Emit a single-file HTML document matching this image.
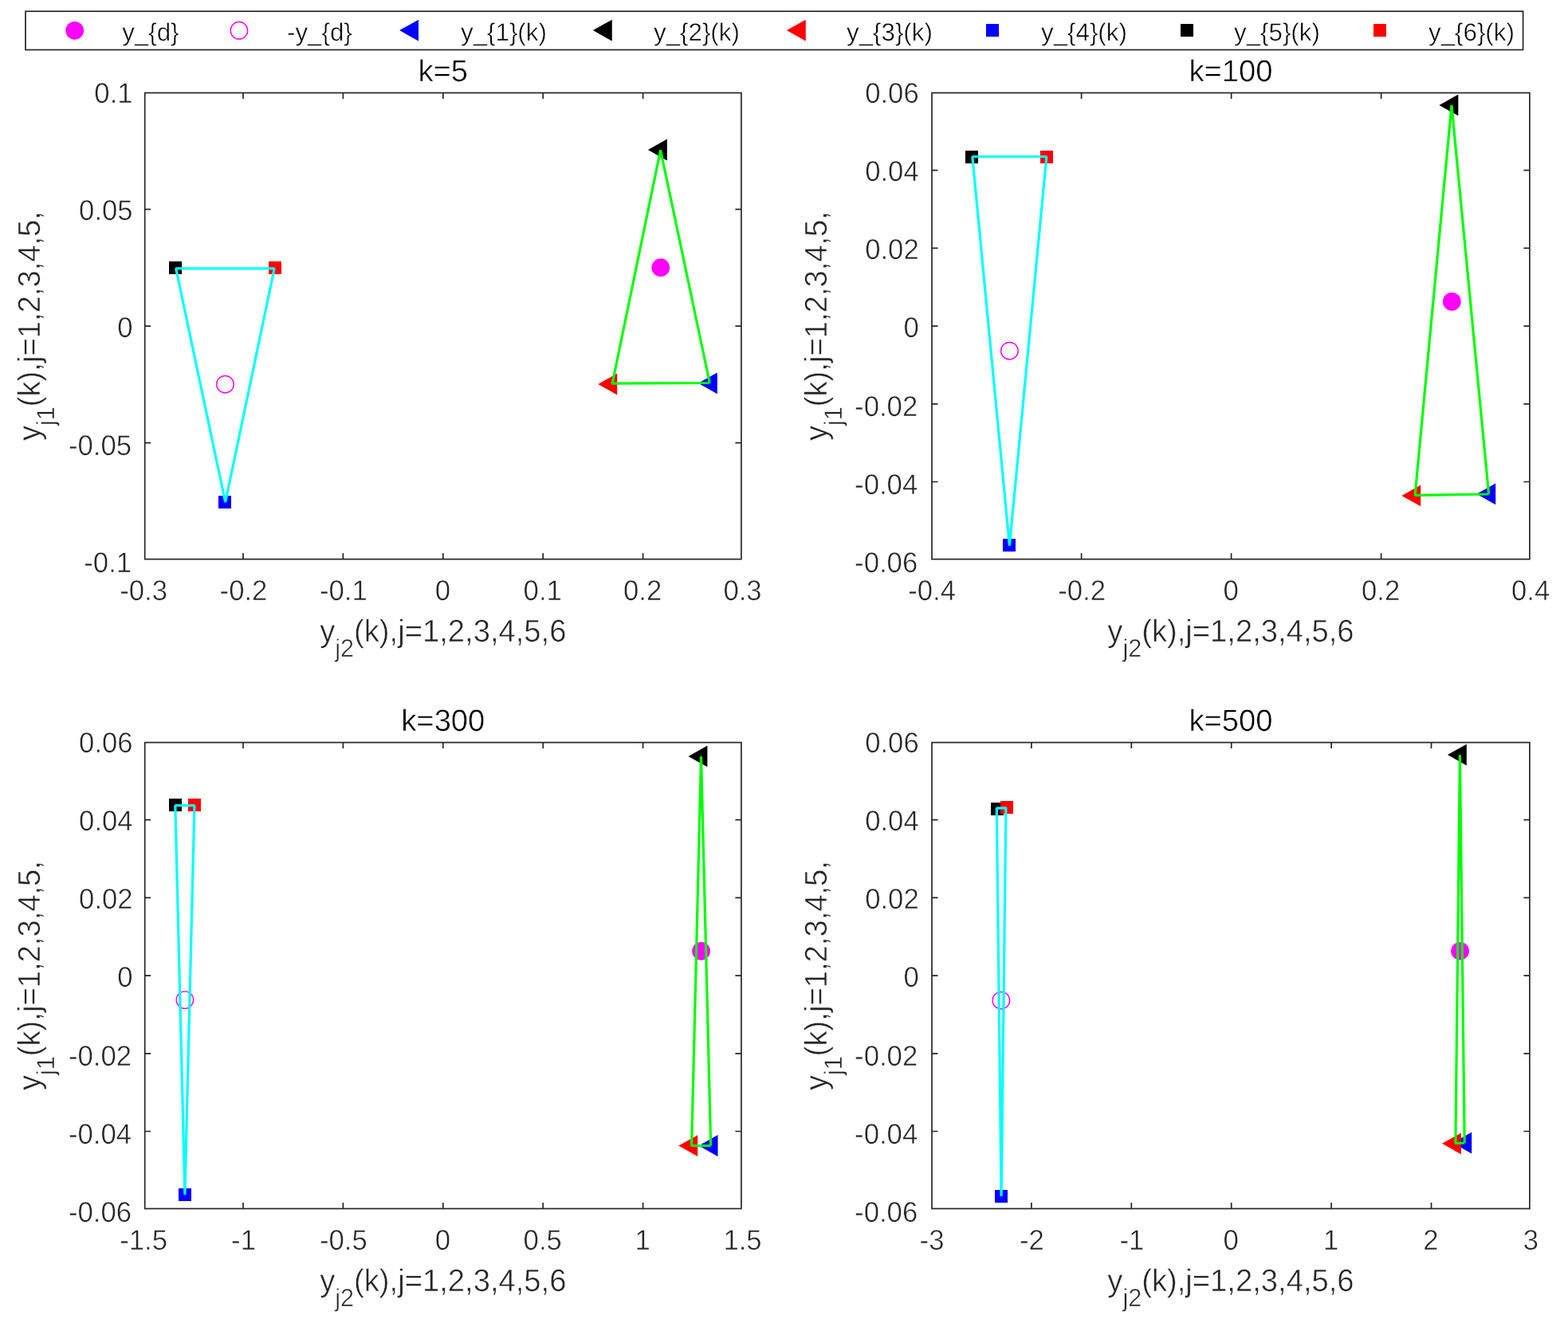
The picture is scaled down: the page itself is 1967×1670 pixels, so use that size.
<!DOCTYPE html>
<html lang="en"><head><meta charset="utf-8"><title>Formation trajectories y_j(k) at k=5, 100, 300, 500</title>
<style>html,body{margin:0;padding:0;background:#fff;}body{width:1967px;height:1670px;overflow:hidden;}svg{display:block;font-family:'Liberation Sans', Arial, Helvetica, sans-serif;}</style>
</head><body>
<svg width="1967" height="1670" viewBox="0 0 1967 1670" text-rendering="geometricPrecision">
<rect width="1967" height="1670" fill="#fff"/>
<rect x="32.0" y="14.2" width="1878.6" height="48.3" fill="#fff" stroke="#262626" stroke-width="1.7"/>
<circle cx="93.70" cy="38.30" r="11.4" fill="#ff00ff"/>
<circle cx="299.90" cy="38.30" r="10.75" fill="none" stroke="#ff00ff" stroke-width="1.4"/>
<polygon points="501.10,38.10 525.00,24.70 525.00,51.50" fill="#0000ff"/>
<polygon points="743.85,38.10 767.75,24.70 767.75,51.50" fill="#000000"/>
<polygon points="986.85,38.10 1010.75,24.70 1010.75,51.50" fill="#ff0000"/>
<rect x="1237" y="30" width="16" height="16" fill="#0000ff"/>
<rect x="1481" y="30" width="16" height="16" fill="#000000"/>
<rect x="1723" y="30" width="16" height="16" fill="#ff0000"/>
<g font-size="31.3" fill="#000" stroke="#fff" stroke-width="0.5">
<text x="153.20" y="50.6">y_{d}</text>
<text x="360.00" y="50.6">-y_{d}</text>
<text x="578.00" y="50.6">y_{1}(k)</text>
<text x="820.00" y="50.6">y_{2}(k)</text>
<text x="1062.00" y="50.6">y_{3}(k)</text>
<text x="1306.00" y="50.6">y_{4}(k)</text>
<text x="1548.00" y="50.6">y_{5}(k)</text>
<text x="1792.00" y="50.6">y_{6}(k)</text>
</g>
<polygon points="875.90,480.80 899.80,467.40 899.80,494.20" fill="#0000ff"/>
<polygon points="812.90,188.00 836.80,174.60 836.80,201.40" fill="#000000"/>
<polygon points="750.30,482.00 774.20,468.60 774.20,495.40" fill="#ff0000"/>
<rect x="274" y="622" width="16" height="16" fill="#0000ff"/>
<rect x="212" y="328" width="16" height="16" fill="#000000"/>
<rect x="337" y="328" width="16" height="16" fill="#ff0000"/>
<circle cx="828.80" cy="335.70" r="11.4" fill="#ff00ff"/>
<circle cx="282.50" cy="482.20" r="10.75" fill="none" stroke="#ff00ff" stroke-width="1.4"/>
<polyline points="890.30,480.50 828.60,188.30 768.10,481.20 890.30,480.50" fill="none" stroke="#00ff00" stroke-width="3.2" stroke-linejoin="bevel" stroke-linecap="butt"/>
<polyline points="282.70,630.20 220.70,336.90 344.20,336.90 282.70,630.20" fill="none" stroke="#00ffff" stroke-width="3.2" stroke-linejoin="bevel" stroke-linecap="butt"/>
<rect x="181.7" y="116.5" width="748.2" height="585.1" fill="none" stroke="#262626" stroke-width="1.7"/>
<path d="M305.00,701.6v-7.5M305.00,116.5v7.5M430.40,701.6v-7.5M430.40,116.5v7.5M555.80,701.6v-7.5M555.80,116.5v7.5M681.20,701.6v-7.5M681.20,116.5v7.5M806.60,701.6v-7.5M806.60,116.5v7.5M181.7,262.60h7.5M929.9,262.60h-7.5M181.7,409.10h7.5M929.9,409.10h-7.5M181.7,555.60h7.5M929.9,555.60h-7.5" stroke="#262626" stroke-width="1.7" fill="none"/>
<g font-size="34.7" fill="#262626" stroke="#fff" stroke-width="0.5">
<text transform="translate(180.10,753.20) scale(1,1.03)" text-anchor="middle">-0.3</text>
<text transform="translate(305.50,753.20) scale(1,1.03)" text-anchor="middle">-0.2</text>
<text transform="translate(430.90,753.20) scale(1,1.03)" text-anchor="middle">-0.1</text>
<text transform="translate(555.30,753.20) scale(1,1.03)" text-anchor="middle">0</text>
<text transform="translate(680.70,753.20) scale(1,1.03)" text-anchor="middle">0.1</text>
<text transform="translate(806.10,753.20) scale(1,1.03)" text-anchor="middle">0.2</text>
<text transform="translate(931.50,753.20) scale(1,1.03)" text-anchor="middle">0.3</text>
<text transform="translate(166.60,129.08) scale(1,1.03)" text-anchor="end">0.1</text>
<text transform="translate(166.60,276.24) scale(1,1.03)" text-anchor="end">0.05</text>
<text transform="translate(166.60,423.40) scale(1,1.03)" text-anchor="end">0</text>
<text transform="translate(165.10,570.56) scale(1,1.03)" text-anchor="end">-0.05</text>
<text transform="translate(165.10,717.72) scale(1,1.03)" text-anchor="end">-0.1</text>
</g>
<text x="555.80" y="101.70" text-anchor="middle" font-size="38.2" fill="#000" stroke="#fff" stroke-width="0.5">k=5</text>
<text transform="translate(555.80,805.40) scale(1,1.03)" text-anchor="middle" font-size="38.2" fill="#262626" stroke="#fff" stroke-width="0.5">y<tspan font-size="30.56" dy="18.0">j2</tspan><tspan dy="-18.0">(k),j=1,2,3,4,5,6</tspan></text>
<text transform="translate(49.90,409.05) rotate(-90) scale(1,1.03)" text-anchor="middle" font-size="38.2" fill="#262626" stroke="#fff" stroke-width="0.5">y<tspan font-size="30.56" dy="18.0">j1</tspan><tspan dy="-18.0">(k),j=1,2,3,4,5,</tspan></text>
<polygon points="1852.30,619.80 1876.20,606.40 1876.20,633.20" fill="#0000ff"/>
<polygon points="1805.40,131.90 1829.30,118.50 1829.30,145.30" fill="#000000"/>
<polygon points="1758.30,621.90 1782.20,608.50 1782.20,635.30" fill="#ff0000"/>
<rect x="1258" y="676" width="16" height="16" fill="#0000ff"/>
<rect x="1211" y="189" width="16" height="16" fill="#000000"/>
<rect x="1305" y="189" width="16" height="16" fill="#ff0000"/>
<circle cx="1821.30" cy="378.40" r="11.4" fill="#ff00ff"/>
<circle cx="1266.40" cy="440.20" r="10.75" fill="none" stroke="#ff00ff" stroke-width="1.4"/>
<polyline points="1867.60,620.00 1821.00,132.00 1775.10,621.50 1867.60,620.00" fill="none" stroke="#00ff00" stroke-width="3.2" stroke-linejoin="bevel" stroke-linecap="butt"/>
<polyline points="1266.40,684.70 1219.80,196.50 1312.90,196.50 1266.40,684.70" fill="none" stroke="#00ffff" stroke-width="3.2" stroke-linejoin="bevel" stroke-linecap="butt"/>
<rect x="1169.0" y="116.5" width="749.9000000000001" height="585.1" fill="none" stroke="#262626" stroke-width="1.7"/>
<path d="M1356.60,701.6v-7.5M1356.60,116.5v7.5M1544.60,701.6v-7.5M1544.60,116.5v7.5M1732.60,701.6v-7.5M1732.60,116.5v7.5M1169.0,213.70h7.5M1918.9,213.70h-7.5M1169.0,311.40h7.5M1918.9,311.40h-7.5M1169.0,409.10h7.5M1918.9,409.10h-7.5M1169.0,506.80h7.5M1918.9,506.80h-7.5M1169.0,604.50h7.5M1918.9,604.50h-7.5" stroke="#262626" stroke-width="1.7" fill="none"/>
<g font-size="34.7" fill="#262626" stroke="#fff" stroke-width="0.5">
<text transform="translate(1169.10,753.20) scale(1,1.03)" text-anchor="middle">-0.4</text>
<text transform="translate(1357.10,753.20) scale(1,1.03)" text-anchor="middle">-0.2</text>
<text transform="translate(1544.10,753.20) scale(1,1.03)" text-anchor="middle">0</text>
<text transform="translate(1732.10,753.20) scale(1,1.03)" text-anchor="middle">0.2</text>
<text transform="translate(1920.10,753.20) scale(1,1.03)" text-anchor="middle">0.4</text>
<text transform="translate(1152.70,128.98) scale(1,1.03)" text-anchor="end">0.06</text>
<text transform="translate(1152.70,227.12) scale(1,1.03)" text-anchor="end">0.04</text>
<text transform="translate(1152.70,325.26) scale(1,1.03)" text-anchor="end">0.02</text>
<text transform="translate(1152.70,423.40) scale(1,1.03)" text-anchor="end">0</text>
<text transform="translate(1151.20,521.54) scale(1,1.03)" text-anchor="end">-0.02</text>
<text transform="translate(1151.20,619.68) scale(1,1.03)" text-anchor="end">-0.04</text>
<text transform="translate(1151.20,717.82) scale(1,1.03)" text-anchor="end">-0.06</text>
</g>
<text x="1543.95" y="101.70" text-anchor="middle" font-size="38.2" fill="#000" stroke="#fff" stroke-width="0.5">k=100</text>
<text transform="translate(1543.95,805.40) scale(1,1.03)" text-anchor="middle" font-size="38.2" fill="#262626" stroke="#fff" stroke-width="0.5">y<tspan font-size="30.56" dy="18.0">j2</tspan><tspan dy="-18.0">(k),j=1,2,3,4,5,6</tspan></text>
<text transform="translate(1037.20,409.05) rotate(-90) scale(1,1.03)" text-anchor="middle" font-size="38.2" fill="#262626" stroke="#fff" stroke-width="0.5">y<tspan font-size="30.56" dy="18.0">j1</tspan><tspan dy="-18.0">(k),j=1,2,3,4,5,</tspan></text>
<polygon points="876.60,1437.50 900.50,1424.10 900.50,1450.90" fill="#0000ff"/>
<polygon points="863.50,948.90 887.40,935.50 887.40,962.30" fill="#000000"/>
<polygon points="851.30,1437.60 875.20,1424.20 875.20,1451.00" fill="#ff0000"/>
<rect x="224" y="1491" width="16" height="16" fill="#0000ff"/>
<rect x="212" y="1002" width="16" height="16" fill="#000000"/>
<rect x="236" y="1002" width="16" height="16" fill="#ff0000"/>
<circle cx="879.60" cy="1193.30" r="11.4" fill="#ff00ff"/>
<circle cx="231.90" cy="1254.60" r="10.75" fill="none" stroke="#ff00ff" stroke-width="1.4"/>
<polyline points="891.70,1437.30 879.50,949.00 867.60,1437.50 891.70,1437.30" fill="none" stroke="#00ff00" stroke-width="3.2" stroke-linejoin="bevel" stroke-linecap="butt"/>
<polyline points="231.90,1499.00 219.85,1010.60 243.95,1010.60 231.90,1499.00" fill="none" stroke="#00ffff" stroke-width="3.2" stroke-linejoin="bevel" stroke-linecap="butt"/>
<rect x="181.7" y="931.6" width="748.2" height="584.9" fill="none" stroke="#262626" stroke-width="1.7"/>
<path d="M305.00,1516.5v-7.5M305.00,931.6v7.5M430.40,1516.5v-7.5M430.40,931.6v7.5M555.80,1516.5v-7.5M555.80,931.6v7.5M681.20,1516.5v-7.5M681.20,931.6v7.5M806.60,1516.5v-7.5M806.60,931.6v7.5M181.7,1028.70h7.5M929.9,1028.70h-7.5M181.7,1126.40h7.5M929.9,1126.40h-7.5M181.7,1224.10h7.5M929.9,1224.10h-7.5M181.7,1321.80h7.5M929.9,1321.80h-7.5M181.7,1419.50h7.5M929.9,1419.50h-7.5" stroke="#262626" stroke-width="1.7" fill="none"/>
<g font-size="34.7" fill="#262626" stroke="#fff" stroke-width="0.5">
<text transform="translate(180.10,1568.10) scale(1,1.03)" text-anchor="middle">-1.5</text>
<text transform="translate(305.50,1568.10) scale(1,1.03)" text-anchor="middle">-1</text>
<text transform="translate(430.90,1568.10) scale(1,1.03)" text-anchor="middle">-0.5</text>
<text transform="translate(555.30,1568.10) scale(1,1.03)" text-anchor="middle">0</text>
<text transform="translate(680.70,1568.10) scale(1,1.03)" text-anchor="middle">0.5</text>
<text transform="translate(806.10,1568.10) scale(1,1.03)" text-anchor="middle">1</text>
<text transform="translate(931.50,1568.10) scale(1,1.03)" text-anchor="middle">1.5</text>
<text transform="translate(166.60,943.98) scale(1,1.03)" text-anchor="end">0.06</text>
<text transform="translate(166.60,1042.12) scale(1,1.03)" text-anchor="end">0.04</text>
<text transform="translate(166.60,1140.26) scale(1,1.03)" text-anchor="end">0.02</text>
<text transform="translate(166.60,1238.40) scale(1,1.03)" text-anchor="end">0</text>
<text transform="translate(165.10,1336.54) scale(1,1.03)" text-anchor="end">-0.02</text>
<text transform="translate(165.10,1434.68) scale(1,1.03)" text-anchor="end">-0.04</text>
<text transform="translate(165.10,1532.82) scale(1,1.03)" text-anchor="end">-0.06</text>
</g>
<text x="555.80" y="916.80" text-anchor="middle" font-size="38.2" fill="#000" stroke="#fff" stroke-width="0.5">k=300</text>
<text transform="translate(555.80,1620.30) scale(1,1.03)" text-anchor="middle" font-size="38.2" fill="#262626" stroke="#fff" stroke-width="0.5">y<tspan font-size="30.56" dy="18.0">j2</tspan><tspan dy="-18.0">(k),j=1,2,3,4,5,6</tspan></text>
<text transform="translate(49.90,1224.05) rotate(-90) scale(1,1.03)" text-anchor="middle" font-size="38.2" fill="#262626" stroke="#fff" stroke-width="0.5">y<tspan font-size="30.56" dy="18.0">j1</tspan><tspan dy="-18.0">(k),j=1,2,3,4,5,</tspan></text>
<polygon points="1822.30,1434.00 1846.20,1420.60 1846.20,1447.40" fill="#0000ff"/>
<polygon points="1815.90,947.10 1839.80,933.70 1839.80,960.50" fill="#000000"/>
<polygon points="1809.00,1434.80 1832.90,1421.40 1832.90,1448.20" fill="#ff0000"/>
<rect x="1248" y="1493" width="16" height="16" fill="#0000ff"/>
<rect x="1243" y="1007" width="16" height="16" fill="#000000"/>
<rect x="1255" y="1005" width="16" height="16" fill="#ff0000"/>
<circle cx="1831.60" cy="1193.30" r="11.4" fill="#ff00ff"/>
<circle cx="1255.90" cy="1255.20" r="10.75" fill="none" stroke="#ff00ff" stroke-width="1.4"/>
<polyline points="1837.20,1434.00 1831.40,947.20 1825.90,1434.50 1837.20,1434.00" fill="none" stroke="#00ff00" stroke-width="3.2" stroke-linejoin="bevel" stroke-linecap="butt"/>
<polyline points="1256.10,1500.90 1250.30,1014.20 1261.90,1013.60 1256.10,1500.90" fill="none" stroke="#00ffff" stroke-width="3.2" stroke-linejoin="bevel" stroke-linecap="butt"/>
<rect x="1169.0" y="931.6" width="749.9000000000001" height="584.9" fill="none" stroke="#262626" stroke-width="1.7"/>
<path d="M1293.90,1516.5v-7.5M1293.90,931.6v7.5M1419.30,1516.5v-7.5M1419.30,931.6v7.5M1544.70,1516.5v-7.5M1544.70,931.6v7.5M1670.10,1516.5v-7.5M1670.10,931.6v7.5M1795.50,1516.5v-7.5M1795.50,931.6v7.5M1169.0,1028.70h7.5M1918.9,1028.70h-7.5M1169.0,1126.40h7.5M1918.9,1126.40h-7.5M1169.0,1224.10h7.5M1918.9,1224.10h-7.5M1169.0,1321.80h7.5M1918.9,1321.80h-7.5M1169.0,1419.50h7.5M1918.9,1419.50h-7.5" stroke="#262626" stroke-width="1.7" fill="none"/>
<g font-size="34.7" fill="#262626" stroke="#fff" stroke-width="0.5">
<text transform="translate(1169.00,1568.10) scale(1,1.03)" text-anchor="middle">-3</text>
<text transform="translate(1294.40,1568.10) scale(1,1.03)" text-anchor="middle">-2</text>
<text transform="translate(1419.80,1568.10) scale(1,1.03)" text-anchor="middle">-1</text>
<text transform="translate(1544.20,1568.10) scale(1,1.03)" text-anchor="middle">0</text>
<text transform="translate(1669.60,1568.10) scale(1,1.03)" text-anchor="middle">1</text>
<text transform="translate(1795.00,1568.10) scale(1,1.03)" text-anchor="middle">2</text>
<text transform="translate(1920.40,1568.10) scale(1,1.03)" text-anchor="middle">3</text>
<text transform="translate(1152.70,943.98) scale(1,1.03)" text-anchor="end">0.06</text>
<text transform="translate(1152.70,1042.12) scale(1,1.03)" text-anchor="end">0.04</text>
<text transform="translate(1152.70,1140.26) scale(1,1.03)" text-anchor="end">0.02</text>
<text transform="translate(1152.70,1238.40) scale(1,1.03)" text-anchor="end">0</text>
<text transform="translate(1151.20,1336.54) scale(1,1.03)" text-anchor="end">-0.02</text>
<text transform="translate(1151.20,1434.68) scale(1,1.03)" text-anchor="end">-0.04</text>
<text transform="translate(1151.20,1532.82) scale(1,1.03)" text-anchor="end">-0.06</text>
</g>
<text x="1543.95" y="916.80" text-anchor="middle" font-size="38.2" fill="#000" stroke="#fff" stroke-width="0.5">k=500</text>
<text transform="translate(1543.95,1620.30) scale(1,1.03)" text-anchor="middle" font-size="38.2" fill="#262626" stroke="#fff" stroke-width="0.5">y<tspan font-size="30.56" dy="18.0">j2</tspan><tspan dy="-18.0">(k),j=1,2,3,4,5,6</tspan></text>
<text transform="translate(1037.20,1224.05) rotate(-90) scale(1,1.03)" text-anchor="middle" font-size="38.2" fill="#262626" stroke="#fff" stroke-width="0.5">y<tspan font-size="30.56" dy="18.0">j1</tspan><tspan dy="-18.0">(k),j=1,2,3,4,5,</tspan></text>
</svg>
</body></html>
